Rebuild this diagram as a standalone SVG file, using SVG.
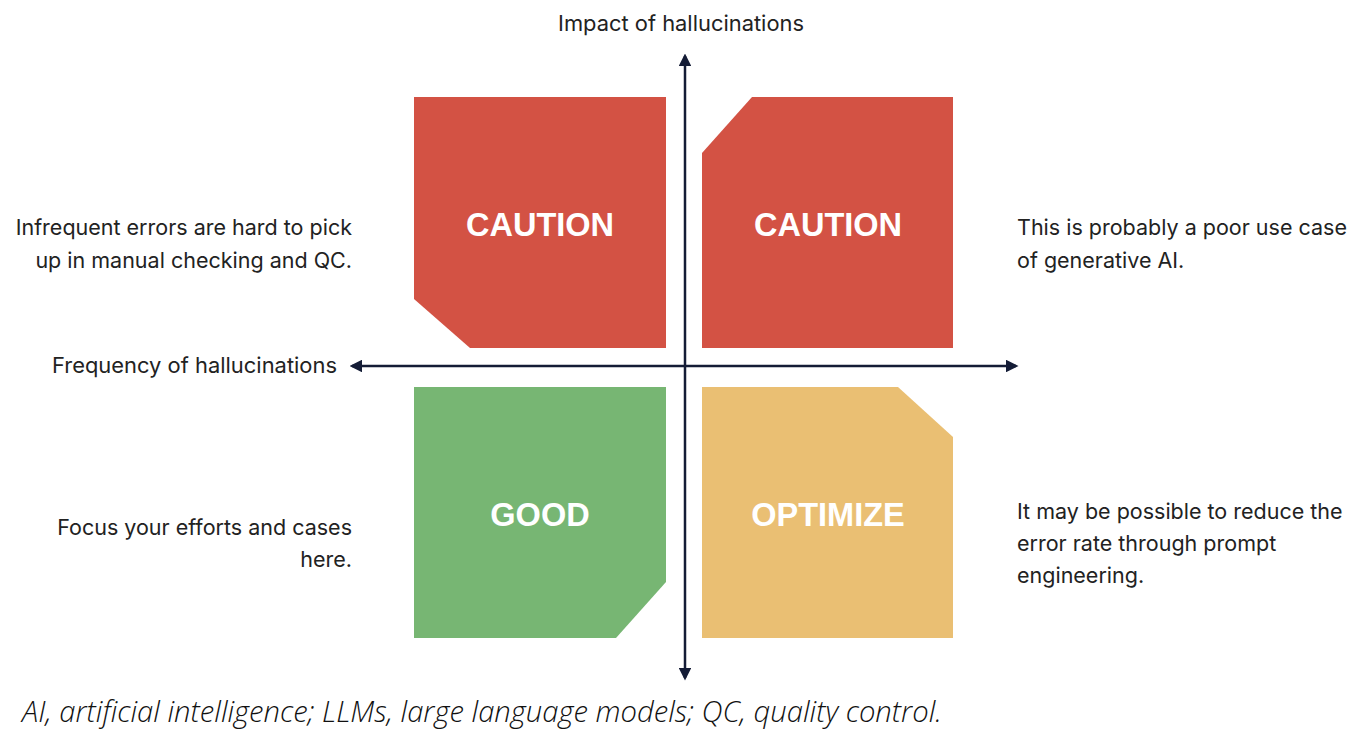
<svg xmlns="http://www.w3.org/2000/svg" width="1366" height="753" viewBox="0 0 1366 753">
<style>
.lbl{font-family:"Liberation Sans",Arial,sans-serif;font-weight:bold;font-size:32.5px;fill:#fff;text-anchor:middle}
.txt{font-family:"Inter","Noto Sans",sans-serif;font-size:21.5px;fill:#222}
.axis{stroke:#141c36;stroke-width:2.5;fill:none}
.cap{font-family:"Open Sans","Noto Sans",sans-serif;font-style:italic;font-weight:300;font-size:29px;fill:#111}
</style>
<defs>
<marker id="ah" viewBox="0 0 10 10" refX="8" refY="5" markerWidth="5" markerHeight="5" orient="auto-start-reverse" markerUnits="strokeWidth">
<path d="M0,0 L10,5 L0,10 z" fill="#141c36"/>
</marker>
</defs>
<rect width="1366" height="753" fill="#fff"/>
<g id="q-top-left">
<polygon points="414,97 666,97 666,348 470,348 414,299" fill="#D35244"/>
<text class="lbl" x="540" y="236">CAUTION</text>
</g>
<g id="q-top-right">
<polygon points="752,97 953,97 953,348 702,348 702,153" fill="#D35244"/>
<text class="lbl" x="828" y="236">CAUTION</text>
</g>
<g id="q-bottom-left">
<polygon points="414,387 666,387 666,582 616,638 414,638" fill="#77B673"/>
<text class="lbl" x="540" y="526">GOOD</text>
</g>
<g id="q-bottom-right">
<polygon points="702,387 898,387 953,437 953,638 702,638" fill="#EABF73"/>
<text class="lbl" x="828" y="526">OPTIMIZE</text>
</g>
<g id="connectors">
<line class="axis" x1="685" y1="56" x2="685" y2="678" marker-start="url(#ah)" marker-end="url(#ah)"/>
<line class="axis" x1="352" y1="366" x2="1016" y2="366" marker-start="url(#ah)" marker-end="url(#ah)"/>
</g>
<g id="texts">
<text class="txt" x="681" y="31" text-anchor="middle" textLength="246" lengthAdjust="spacingAndGlyphs">Impact of hallucinations</text>
<text class="txt" x="337" y="373" text-anchor="end" textLength="285" lengthAdjust="spacingAndGlyphs">Frequency of hallucinations</text>
<text class="txt" text-anchor="end"><tspan x="352" y="235">Infrequent errors are hard to pick</tspan><tspan x="352" y="268">up in manual checking and QC.</tspan></text>
<text class="txt"><tspan x="1017" y="235">This is probably a poor use case</tspan><tspan x="1017" y="268">of generative AI.</tspan></text>
<text class="txt" text-anchor="end"><tspan x="352" y="535">Focus your efforts and cases</tspan><tspan x="352" y="567">here.</tspan></text>
<text class="txt"><tspan x="1017" y="519">It may be possible to reduce the</tspan><tspan x="1017" y="551">error rate through prompt</tspan><tspan x="1017" y="583">engineering.</tspan></text>
<text class="cap" x="22" y="722" textLength="920" lengthAdjust="spacingAndGlyphs">AI, artificial intelligence; LLMs, large language models; QC, quality control.</text>
</g>
</svg>
